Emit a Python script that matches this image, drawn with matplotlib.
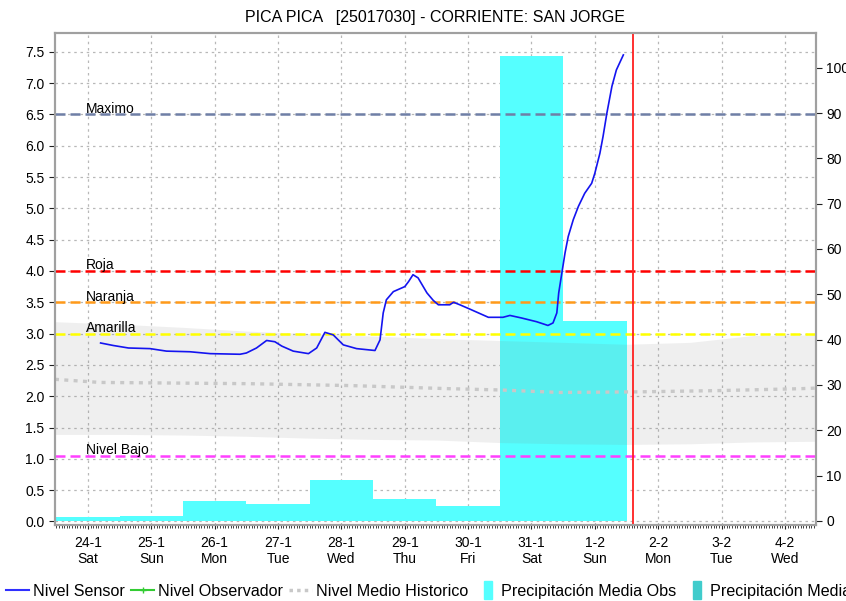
import numpy as np
import matplotlib
matplotlib.use("Agg")
import matplotlib.pyplot as plt
from matplotlib.lines import Line2D
from matplotlib.patches import Patch, Rectangle
from matplotlib.legend_handler import HandlerPatch
from matplotlib.ticker import MultipleLocator

plt.rcParams['font.family'] = ['Liberation Sans', 'DejaVu Sans']

# ---- data (days counted from 24-1 00:00) ----
day_labels = ['24-1', '25-1', '26-1', '27-1', '28-1', '29-1', '30-1', '31-1', '1-2', '2-2', '3-2', '4-2']
weekday_labels = ['Sat', 'Sun', 'Mon', 'Tue', 'Wed', 'Thu', 'Fri', 'Sat', 'Sun', 'Mon', 'Tue', 'Wed']

# sensor level (m)
sensor_day = [0.20, 0.40, 0.64, 0.98, 1.24, 1.61, 1.93, 2.40, 2.50, 2.66, 2.82, 2.95, 3.06,
              3.24, 3.48, 3.61, 3.74, 3.87, 4.03, 4.24, 4.53, 4.61, 4.66, 4.71, 4.82, 5.00,
              5.06, 5.13, 5.21, 5.35, 5.45, 5.53, 5.71, 5.77, 5.87, 6.03, 6.32, 6.55, 6.66,
              6.84, 7.08, 7.26, 7.34, 7.40, 7.43, 7.48, 7.53, 7.58, 7.66, 7.74, 7.84, 7.95,
              8.00, 8.08, 8.13, 8.19, 8.27, 8.34, 8.45]
sensor_level = [2.85, 2.81, 2.77, 2.76, 2.72, 2.71, 2.68, 2.67, 2.69, 2.77, 2.89, 2.87, 2.80,
                2.72, 2.68, 2.77, 3.02, 2.98, 2.82, 2.76, 2.73, 2.90, 3.33, 3.54, 3.67, 3.75,
                3.83, 3.94, 3.89, 3.65, 3.53, 3.46, 3.46, 3.50, 3.46, 3.39, 3.26, 3.26, 3.29,
                3.25, 3.19, 3.13, 3.17, 3.33, 3.65, 3.97, 4.29, 4.55, 4.82, 5.03, 5.24, 5.40,
                5.56, 5.88, 6.15, 6.52, 6.95, 7.21, 7.45]

# historic mean level and historic range
hist_day = [-0.52, 0.19, 2.56, 4.14, 5.71, 6.50, 7.45, 8.71, 9.97, 11.24, 11.49]
hist_level = [2.27, 2.22, 2.20, 2.17, 2.12, 2.10, 2.06, 2.07, 2.09, 2.12, 2.13]
band_day = [-0.52, 0.5, 1.5, 2.5, 3.5, 4.5, 5.5, 6.5, 7.5, 8.5, 9.5, 10.5, 11.49]
band_high = [3.19, 3.15, 3.10, 3.04, 3.00, 2.96, 2.92, 2.89, 2.86, 2.83, 2.86, 2.97, 2.98]
band_low = [1.39, 1.39, 1.38, 1.36, 1.33, 1.31, 1.30, 1.26, 1.24, 1.23, 1.24, 1.27, 1.28]

# daily mean precipitation (mm)
precip_day = [0, 1, 2, 3, 4, 5, 6, 7, 8]
precip_mm = [0.8, 1.2, 4.3, 3.7, 9.1, 4.8, 3.2, 102.6, 44.1]

# alert levels
alert_names = ['Maximo', 'Roja', 'Naranja', 'Amarilla', 'Nivel Bajo']
alert_levels = [6.5, 4.0, 3.5, 3.0, 1.05]
alert_colors = ['#6F7FA6', '#FF0000', '#FF9A1A', '#FFFF00', '#FF40FF']

now_day = 8.61

# ---- figure ----
fig = plt.figure(figsize=(8.46, 6.01), dpi=100)
ax = fig.add_axes([0.065, 0.1265, 0.8995, 0.8186])
ax2 = ax.twinx()

ax.set_xlim(-0.52, 11.49)
ax.set_ylim(-0.056, 7.80)
ax2.set_ylim(-0.88, 107.65)

ax.set_axisbelow(True)
ax.grid(True, color='#B8B8B8', linestyle=(0, (2, 3)), linewidth=0.9)

# precipitation bars use the right-hand scale but sit under the level lines
ax.bar(precip_day, precip_mm, width=1.0, color='#55FFFF', linewidth=0,
       transform=ax2.transData, zorder=1)

ax.fill_between(band_day, band_low, band_high, color='#808080', alpha=0.12,
                linewidth=0, zorder=1.5)
ax.plot(hist_day, hist_level, color='#C8C8C8', lw=2.4, linestyle=(0, (1.2, 1.6)), zorder=2)

for name, lvl, col in zip(alert_names, alert_levels, alert_colors):
    ax.axhline(lvl, color=col, lw=1.8, linestyle=(0, (4, 2)), zorder=3)
    ax.text(-0.03, lvl - 0.02, name, ha='left', va='bottom', fontsize=10, zorder=4)

ax.axvline(now_day, color='#FF2020', lw=1.3, zorder=4)
ax.plot(sensor_day, sensor_level, color='#1414F0', lw=1.2, zorder=5)

# axes styling
ax.set_xticks(range(len(day_labels)))
ax.set_xticklabels([f"{d}\n{w}" for d, w in zip(day_labels, weekday_labels)], fontsize=10)
ax.xaxis.set_minor_locator(MultipleLocator(1 / 24))
ax.tick_params(axis='x', which='major', length=3, pad=5, color='#202020')
ax.tick_params(axis='x', which='minor', length=2, color='#202020')
ax.set_yticks(np.arange(0, 7.51, 0.5))
ax.set_yticklabels([f"{v:.1f}" for v in np.arange(0, 7.51, 0.5)], fontsize=10)
ax.tick_params(axis='y', length=4, color='#202020')
ax2.set_yticks(range(0, 101, 10))
ax2.set_yticklabels([str(v) for v in range(0, 101, 10)], fontsize=10)
ax2.tick_params(axis='y', length=4, color='#202020')

for a in (ax, ax2):
    for s in a.spines.values():
        s.set_color('#A0A0A0')
        s.set_linewidth(1.5)

ax.set_title('PICA PICA   [25017030] - CORRIENTE: SAN JORGE', fontsize=11.5, pad=8)


def narrow_patch(legend, orig_handle, xdescent, ydescent, width, height, fontsize):
    w = 0.5 * fontsize
    return Rectangle((width - w - xdescent - 0.3 * fontsize, -ydescent - 0.3 * height), w, 1.6 * height)


handles = [Line2D([], [], color='#3030FF', lw=1.5),
           Line2D([], [], color='#33CC33', lw=1.5, marker='+', ms=5),
           Line2D([], [], color='#C8C8C8', lw=2.5, linestyle=(0, (1, 1.2))),
           Patch(color='#55FFFF'),
           Patch(color='#40CCCC')]
labels = ['Nivel Sensor', 'Nivel Observador', 'Nivel Medio Historico',
          'Precipitación Media Obs', 'Precipitación Media Pronosticada']
fig.legend(handles, labels, loc='center left', bbox_to_anchor=(0.0, 0.0166), ncol=5,
           frameon=False, fontsize=11.6, handlelength=1.4, handletextpad=0.25,
           columnspacing=0.4, borderaxespad=0, borderpad=0.4,
           handler_map={Patch: HandlerPatch(patch_func=narrow_patch)})

fig.savefig('out.png', dpi=100)
